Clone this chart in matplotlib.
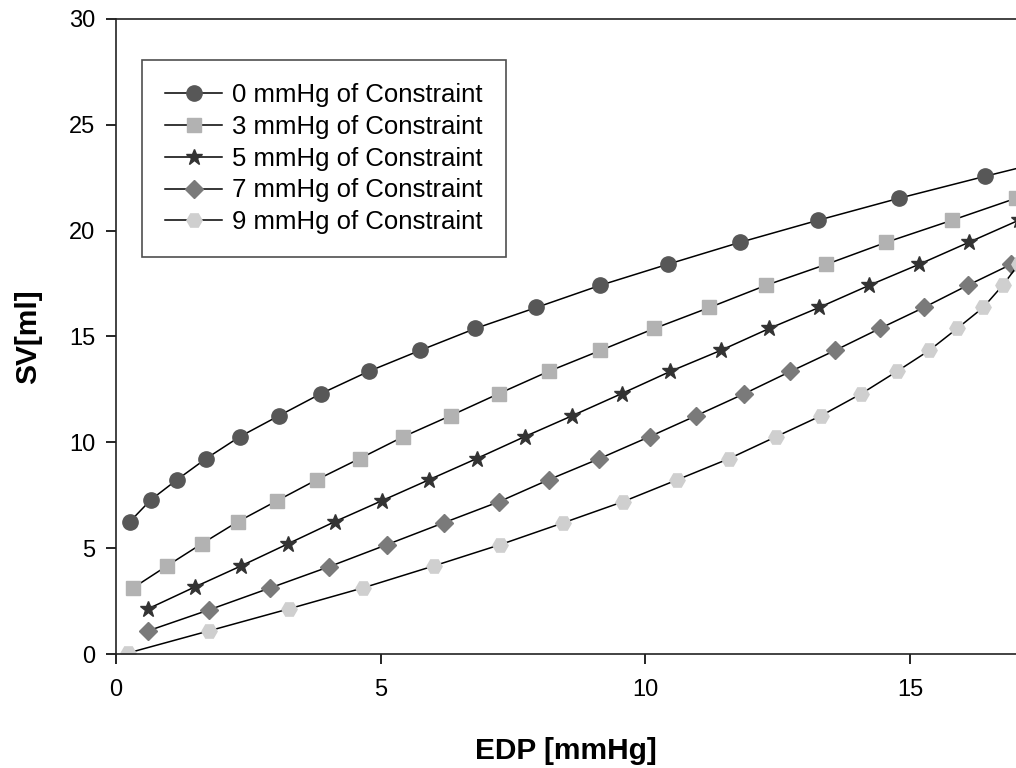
import matplotlib.pyplot as plt

plt.rcParams['font.family'] = ['Liberation Sans', 'DejaVu Sans']

# EDP [mmHg] and SV [ml], one pair of lists per constraint level
edp_0 = [0.26, 0.66, 1.15, 1.70, 2.34, 3.08, 3.87, 4.77, 5.74, 6.79, 7.94, 9.15, 10.42, 11.79, 13.26, 14.79, 16.42, 18.10]
sv_0 = [6.25, 7.29, 8.23, 9.23, 10.27, 11.26, 12.30, 13.35, 14.34, 15.38, 16.37, 17.42, 18.41, 19.45, 20.49, 21.53, 22.57, 23.61]

edp_3 = [0.32, 0.96, 1.62, 2.30, 3.04, 3.79, 4.60, 5.43, 6.32, 7.23, 8.17, 9.15, 10.17, 11.21, 12.28, 13.42, 14.55, 15.79, 17.00, 18.30]
sv_3 = [3.12, 4.16, 5.21, 6.25, 7.24, 8.23, 9.23, 10.27, 11.26, 12.30, 13.35, 14.34, 15.38, 16.37, 17.42, 18.41, 19.45, 20.49, 21.53, 22.57]

edp_5 = [0.60, 1.49, 2.36, 3.25, 4.13, 5.02, 5.91, 6.81, 7.72, 8.62, 9.55, 10.47, 11.42, 12.34, 13.28, 14.23, 15.17, 16.11, 17.05]
sv_5 = [2.13, 3.17, 4.16, 5.21, 6.25, 7.24, 8.23, 9.23, 10.27, 11.26, 12.30, 13.35, 14.34, 15.38, 16.37, 17.42, 18.41, 19.45, 20.49]

edp_7 = [0.60, 1.75, 2.91, 4.02, 5.11, 6.19, 7.23, 8.17, 9.13, 10.08, 10.96, 11.87, 12.74, 13.58, 14.43, 15.26, 16.09, 16.91, 17.70]
sv_7 = [1.09, 2.08, 3.12, 4.12, 5.16, 6.20, 7.19, 8.23, 9.23, 10.27, 11.26, 12.30, 13.35, 14.34, 15.38, 16.37, 17.42, 18.41, 19.45]

edp_9 = [0.23, 1.75, 3.26, 4.66, 6.00, 7.25, 8.45, 9.57, 10.60, 11.58, 12.47, 13.32, 14.08, 14.75, 15.36, 15.89, 16.38, 16.75, 17.05, 17.35]
sv_9 = [0.05, 1.09, 2.13, 3.12, 4.16, 5.16, 6.20, 7.19, 8.23, 9.23, 10.27, 11.26, 12.30, 13.35, 14.34, 15.38, 16.37, 17.42, 18.41, 19.45]

labels = ['0 mmHg of Constraint', '3 mmHg of Constraint', '5 mmHg of Constraint',
          '7 mmHg of Constraint', '9 mmHg of Constraint']

fig = plt.figure(figsize=(10.16, 7.68), dpi=100)
ax = fig.add_axes([0.1142, 0.1484, 0.8858, 0.8269])

# (x, y, marker, size, colour) for each series
series = [
    (edp_0, sv_0, 'o', 11, '#575757'),
    (edp_3, sv_3, 's', 10, '#b2b2b2'),
    (edp_5, sv_5, '*', 12, '#333333'),
    (edp_7, sv_7, 'D', 9, '#7a7a7a'),
    (edp_9, sv_9, 'H', 11, '#cfcfcf'),
]
for (x, y, m, ms, c), lab in zip(series, labels):
    ax.plot(x, y, color='black', lw=1.1, marker=m, markersize=ms,
            markerfacecolor=c, markeredgecolor=c, label=lab)

ax.set_xlim(0, 17.0)
ax.set_ylim(0, 30)
ax.set_xticks([0, 5, 10, 15])
ax.set_yticks([0, 5, 10, 15, 20, 25, 30])
ax.tick_params(direction='out', length=7, width=1.2, labelsize=17)
ax.tick_params(axis='y', pad=8)
ax.tick_params(axis='x', pad=11)
ax.spines['right'].set_visible(False)
for s in ['left', 'bottom', 'top']:
    ax.spines[s].set_linewidth(1.2)
    ax.spines[s].set_color('#222222')

ax.set_xlabel('EDP [mmHg]', fontsize=21.5, fontweight='bold', labelpad=26)
ax.set_ylabel('SV[ml]', fontsize=21.5, fontweight='bold', labelpad=19)

leg = ax.legend(loc='upper left', bbox_to_anchor=(0.029, 0.935), fontsize=18.5,
                frameon=True, fancybox=False, edgecolor='#222222',
                borderpad=0.9, labelspacing=0.3, handlelength=2.2,
                handletextpad=0.4, borderaxespad=0)
leg.get_frame().set_linewidth(1.2)

fig.savefig('out.png', dpi=100)
